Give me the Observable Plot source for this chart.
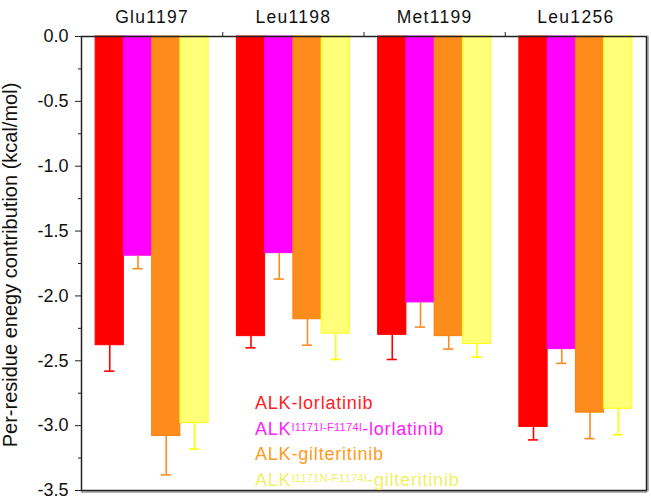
<!DOCTYPE html>
<html>
<head>
<meta charset="utf-8">
<script src="https://cdn.jsdelivr.net/npm/d3@7"></script>
<script src="https://cdn.jsdelivr.net/npm/@observablehq/plot@0.6"></script>
<style>
  html, body { margin: 0; padding: 0; background: #fff; }
  #wrap { position: relative; width: 651px; height: 500px; font-family: "Liberation Sans", Arial, sans-serif; }
</style>
</head>
<body>
<div id="wrap"></div>
<script>
// ---- data ----
const residues = ["Glu1197", "Leu1198", "Met1199", "Leu1256"];
const seriesNames = ["ALK-lorlatinib", "ALK I1171I-F1174I-lorlatinib", "ALK-gilteritinib", "ALK I1171N-F1174I-gilteritinib"];
const lorlatinib      = [-2.38, -2.31, -2.30, -3.01];
const lorlatinibErr   = [0.20, 0.09, 0.19, 0.10];
const mutLorlatinib    = [-1.69, -1.67, -2.05, -2.41];
const mutLorlatinibErr = [0.10, 0.20, 0.19, 0.11];
const gilteritinib     = [-3.08, -2.18, -2.31, -2.90];
const gilteritinibErr  = [0.30, 0.20, 0.10, 0.20];
const mutGilteritinib    = [-2.98, -2.29, -2.37, -2.87];
const mutGilteritinibErr = [0.20, 0.20, 0.10, 0.20];
const yMajorTicks = [0, -0.5, -1.0, -1.5, -2.0, -2.5, -3.0, -3.5];
const yMinorTicks = [-0.25, -0.75, -1.25, -1.75, -2.25, -2.75, -3.25];
const yLabel = "Per-residue enegy contribution (kcal/mol)";
const legendBase = ["ALK", "ALK", "ALK", "ALK"];
const legendSup = ["", "I1171I-F1174I", "", "I1171N-F1174I"];
const legendSuffix = ["-lorlatinib", "-lorlatinib", "-gilteritinib", "-gilteritinib"];

// ---- styles ----
const fillColors = ["#ff0000", "#ff00ff", "#fe8c1c", "#ffff78"];
const strokeColors = ["#ff0000", "#ff00ff", "#f7830f", "#ffff10"];
const errColors = ["#ff0000", "#fb8a22", "#fb8a22", "#ffff00"];
const legendColors = ["#ff1c24", "#ff1cff", "#ff9c1c", "#f0f066"];

const allValues = [lorlatinib, mutLorlatinib, gilteritinib, mutGilteritinib];
const allErrs = [lorlatinibErr, mutLorlatinibErr, gilteritinibErr, mutGilteritinibErr];

const pad = 0.1, bw = 0.2;
const rows = [];
residues.forEach((r, ri) => {
  seriesNames.forEach((s, si) => {
    rows.push({residue: r, ri, series: s, si, value: allValues[si][ri], err: allErrs[si][ri]});
  });
});
const left = d => d.ri + pad + d.si * bw;
const center = d => d.ri + pad + d.si * bw + bw / 2;
const capHalf = 0.036;

const chart = Plot.plot({
  width: 651,
  height: 500,
  marginLeft: 81,
  marginRight: 5,
  marginTop: 36,
  marginBottom: 10,
  style: {background: "#fff", fontFamily: "'Liberation Sans', Arial, sans-serif", color: "#111"},
  x: {domain: [0, residues.length]},
  y: {domain: [-3.5, 0]},
  color: {type: "identity"},
  marks: [
    Plot.rectY(rows, {
      x1: left,
      x2: d => left(d) + bw,
      y1: 0,
      y2: "value",
      fill: d => fillColors[d.si],
      stroke: d => strokeColors[d.si],
      strokeWidth: 1
    }),
    Plot.ruleX(rows, {
      x: center,
      y1: "value",
      y2: d => d.value - d.err,
      stroke: d => errColors[d.si],
      strokeWidth: 1.6
    }),
    Plot.ruleY(rows, {
      y: d => d.value - d.err,
      x1: d => center(d) - capHalf,
      x2: d => center(d) + capHalf,
      stroke: d => errColors[d.si],
      strokeWidth: 1.6
    }),
    Plot.frame({anchor: "right", stroke: "#999", strokeWidth: 1.5, dx: 1.5}),
    Plot.frame({anchor: "bottom", stroke: "#999", strokeWidth: 1.5, dy: 1.5}),
    Plot.frame({stroke: "#222", strokeWidth: 1.5}),
    Plot.axisY({ticks: yMajorTicks, tickSize: 6, tickPadding: 7, tickFormat: d => d.toFixed(1), fontSize: 18, label: null, stroke: "#222"}),
    Plot.axisY({ticks: yMinorTicks, tickSize: 3, tickFormat: () => "", label: null, stroke: "#222"}),
    Plot.axisX({anchor: "top", ticks: d3.range(1, residues.length), tickSize: 5, tickFormat: () => "", label: null, stroke: "#222"}),
    Plot.text(residues, {
      x: (d, i) => i + 0.5,
      frameAnchor: "top",
      dy: -26,
      text: d => d,
      fontSize: 17.5,
      fill: "#111"
    }),
    Plot.text([yLabel], {
      frameAnchor: "left",
      textAnchor: "middle",
      dx: -71,
      dy: 1.5,
      rotate: -90,
      text: d => d,
      fontSize: 20,
      fill: "#111"
    })
  ]
});

const wrap = document.getElementById("wrap");
wrap.appendChild(chart);
// letter spacing for category labels
d3.select(chart).selectAll("text").filter(function() { return residues.includes(this.textContent); })
  .style("letter-spacing", "1.3px");

const legend = document.createElement("div");
Object.assign(legend.style, {
  position: "absolute", left: "255px", top: "391px",
  fontFamily: "'Liberation Sans', Arial, sans-serif",
  fontSize: "18px", letterSpacing: "0.8px"
});
legendBase.forEach((b, i) => {
  const line = document.createElement("div");
  Object.assign(line.style, {height: "25.5px", lineHeight: "25.5px", whiteSpace: "nowrap", color: legendColors[i]});
  line.appendChild(document.createTextNode(b));
  if (legendSup[i]) {
    const s = document.createElement("span");
    Object.assign(s.style, {fontSize: "11px", lineHeight: "0", verticalAlign: "4px", letterSpacing: "0.3px"});
    s.textContent = legendSup[i];
    line.appendChild(s);
  }
  line.appendChild(document.createTextNode(legendSuffix[i]));
  legend.appendChild(line);
});
wrap.appendChild(legend);
</script>
</body>
</html>
